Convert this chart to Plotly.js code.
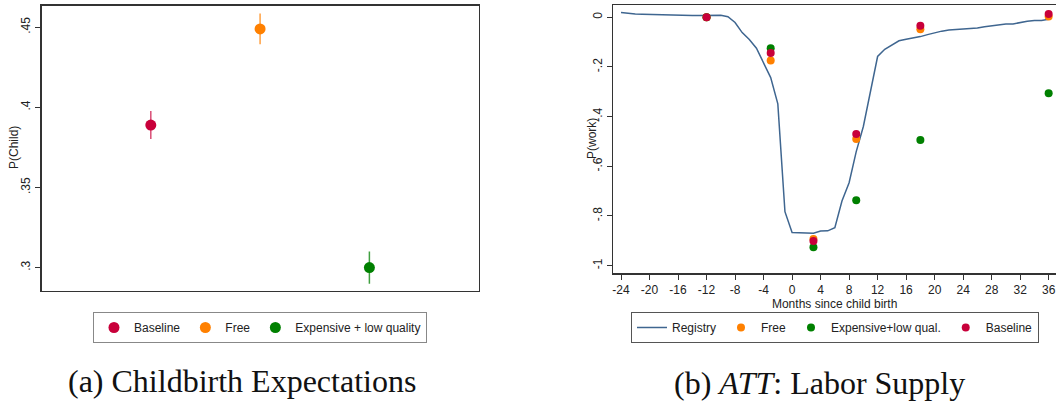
<!DOCTYPE html>
<html>
<head>
<meta charset="utf-8">
<script src="https://cdn.plot.ly/plotly-3.0.1.min.js"></script>
<style>
html,body{margin:0;padding:0;background:#fff;}
#chart{width:1056px;height:402px;}
</style>
</head>
<body>
<div id="chart"></div>
<script>
// Panel (a): childbirth expectations
const expectNames = ['Baseline', 'Free', 'Expensive + low quality'];
const expectX = [1, 2, 3];
const expectValues = [0.389, 0.449, 0.300];
const expectErr = [0.0087, 0.0096, 0.0100];
const expectTickVals = [0.30, 0.35, 0.40, 0.45];
const expectTickText = ['.3', '.35', '.4', '.45'];

// Panel (b): ATT labor supply
const registryMonths = [-24,-23,-22,-21,-20,-19,-18,-17,-16,-15,-14,-13,-12,-11,-10,-9,-8,-7,-6,-5,-4,-3,-2,-1,0,1,2,3,4,5,6,7,8,9,10,11,12,13,14,15,16,17,18,19,20,21,22,23,24,25,26,27,28,29,30,31,32,33,34,35,36];
const registryValues = [0.019,0.015,0.013,0.012,0.011,0.011,0.010,0.008,0.009,0.008,0.007,0.007,0.007,0.008,0.008,0.002,-0.021,-0.062,-0.090,-0.125,-0.185,-0.243,-0.349,-0.783,-0.867,-0.869,-0.870,-0.870,-0.861,-0.860,-0.847,-0.740,-0.666,-0.541,-0.440,-0.293,-0.158,-0.129,-0.111,-0.095,-0.089,-0.084,-0.078,-0.070,-0.062,-0.056,-0.051,-0.049,-0.048,-0.046,-0.043,-0.038,-0.034,-0.030,-0.027,-0.027,-0.020,-0.016,-0.013,-0.013,-0.008];
const surveyMonths = [-12, -3, 3, 9, 18, 36];
const freeValues = [0.000, -0.174, -0.893, -0.490, -0.048, 0.003];
const expensiveValues = [0.000, -0.125, -0.926, -0.737, -0.494, -0.306];
const baselineValues = [0.000, -0.144, -0.901, -0.470, -0.034, 0.013];
const monthTicks = [-24,-20,-16,-12,-8,-4,0,4,8,12,16,20,24,28,32,36];
const monthTickText = ['-24','-20','-16','-12','-8','-4','0','4','8','12','16','20','24','28','32','36'];
const workTickVals = [0, -0.2, -0.4, -0.6, -0.8, -1];
const workTickText = ['0', '-.2', '-.4', '-.6', '-.8', '-1'];

const colBaseline = '#c8003a';
const colFree = '#ff8000';
const colExp = '#008000';
const colReg = '#3f6690';
const barCols = ['rgba(200,0,58,0.7)', 'rgba(255,128,0,0.75)', 'rgba(0,128,0,0.75)'];
const dotCols = [colBaseline, colFree, colExp];

const traces = [];
for (let i = 0; i < expectNames.length; i++) {
  traces.push({
    type: 'scatter', mode: 'markers',
    x: [expectX[i]], y: [expectValues[i]],
    name: expectNames[i],
    marker: {color: dotCols[i], size: 11},
    error_y: {type: 'data', array: [expectErr[i]], visible: true, color: barCols[i], thickness: 1.5, width: 0},
    xaxis: 'x', yaxis: 'y', legend: 'legend', hoverinfo: 'skip'
  });
}
traces.push({
  type: 'scatter', mode: 'lines', x: registryMonths, y: registryValues,
  name: 'Registry', line: {color: colReg, width: 1.5},
  xaxis: 'x2', yaxis: 'y2', legend: 'legend2'
});
traces.push({
  type: 'scatter', mode: 'markers', x: surveyMonths, y: freeValues,
  name: 'Free', marker: {color: colFree, size: 8},
  xaxis: 'x2', yaxis: 'y2', legend: 'legend2'
});
traces.push({
  type: 'scatter', mode: 'markers', x: surveyMonths, y: expensiveValues,
  name: 'Expensive+low qual.', marker: {color: colExp, size: 8},
  xaxis: 'x2', yaxis: 'y2', legend: 'legend2'
});
traces.push({
  type: 'scatter', mode: 'markers', x: surveyMonths, y: baselineValues,
  name: 'Baseline', marker: {color: colBaseline, size: 8},
  xaxis: 'x2', yaxis: 'y2', legend: 'legend2'
});

const axisFont = {family: 'Liberation Sans, Arial, sans-serif', size: 12, color: '#222'};
const lineCol = '#333';
const captionFont = {family: 'Liberation Serif, Times New Roman, serif', size: 32, color: '#111'};

const layout = {
  width: 1056, height: 402,
  margin: {l: 0, r: 0, t: 0, b: 0},
  paper_bgcolor: '#fff', plot_bgcolor: '#fff',
  font: axisFont,
  showlegend: true,
  xaxis: {
    domain: [0.0393, 0.4533], range: [0, 4], anchor: 'y',
    showticklabels: false, ticks: '', showgrid: false, zeroline: false,
    showline: true, mirror: true, linecolor: lineCol, linewidth: 1.3, automargin: false
  },
  yaxis: {
    domain: [0.2761, 0.9863], range: [0.2854, 0.4636], anchor: 'x',
    tickvals: expectTickVals, ticktext: expectTickText, tickangle: -90,
    ticks: 'outside', ticklen: 5, tickwidth: 1, tickcolor: lineCol,
    showgrid: false, zeroline: false, showline: true, mirror: true,
    linecolor: lineCol, linewidth: 1.3, automargin: false, tickfont: axisFont
  },
  xaxis2: {
    domain: [0.5808, 1.0], range: [-25.08, 37.03], anchor: 'y2',
    tickvals: monthTicks, ticktext: monthTickText,
    ticks: 'outside', ticklen: 5, tickwidth: 1, tickcolor: lineCol,
    showgrid: false, zeroline: false, showline: true, mirror: true,
    linecolor: lineCol, linewidth: 1.3, automargin: false, tickfont: axisFont,
    title: {text: 'Months since child birth', font: axisFont, standoff: 1}
  },
  yaxis2: {
    domain: [0.3201, 0.9868], range: [-1.031, 0.048], anchor: 'x2',
    tickvals: workTickVals, ticktext: workTickText, tickangle: -90,
    ticks: 'outside', ticklen: 5, tickwidth: 1, tickcolor: lineCol,
    showgrid: false, zeroline: false, showline: true, mirror: false,
    linecolor: lineCol, linewidth: 1.3, automargin: false, tickfont: axisFont
  },
  legend: {
    x: 0.2462, xanchor: 'center', y: 0.2239, yanchor: 'top',
    orientation: 'h', bordercolor: '#888', borderwidth: 1, bgcolor: '#fff',
    font: axisFont, itemclick: false, itemdoubleclick: false
  },
  legend2: {
    x: 0.7907, xanchor: 'center', y: 0.2239, yanchor: 'top',
    orientation: 'h', bordercolor: '#555', borderwidth: 1, bgcolor: '#fff',
    font: axisFont, itemclick: false, itemdoubleclick: false
  },
  annotations: [
    {text: 'P(Child)', x: 14 / 1056, y: (402 - 148) / 402, xref: 'paper', yref: 'paper',
     xanchor: 'center', yanchor: 'middle', textangle: -90, showarrow: false, font: axisFont},
    {text: 'P(work)', x: 592 / 1056, y: (402 - 139) / 402, xref: 'paper', yref: 'paper',
     xanchor: 'center', yanchor: 'middle', textangle: -90, showarrow: false, font: axisFont},
    {text: '(a) Childbirth Expectations', x: 0.2296, y: 0.052, xref: 'paper', yref: 'paper',
     xanchor: 'center', yanchor: 'middle', showarrow: false, font: captionFont},
    {text: '(b) <i>ATT</i>: Labor Supply', x: 0.7765, y: 0.048, xref: 'paper', yref: 'paper',
     xanchor: 'center', yanchor: 'middle', showarrow: false, font: captionFont}
  ]
};

Plotly.newPlot('chart', traces, layout, {staticPlot: true, displayModeBar: false});
</script>
</body>
</html>
